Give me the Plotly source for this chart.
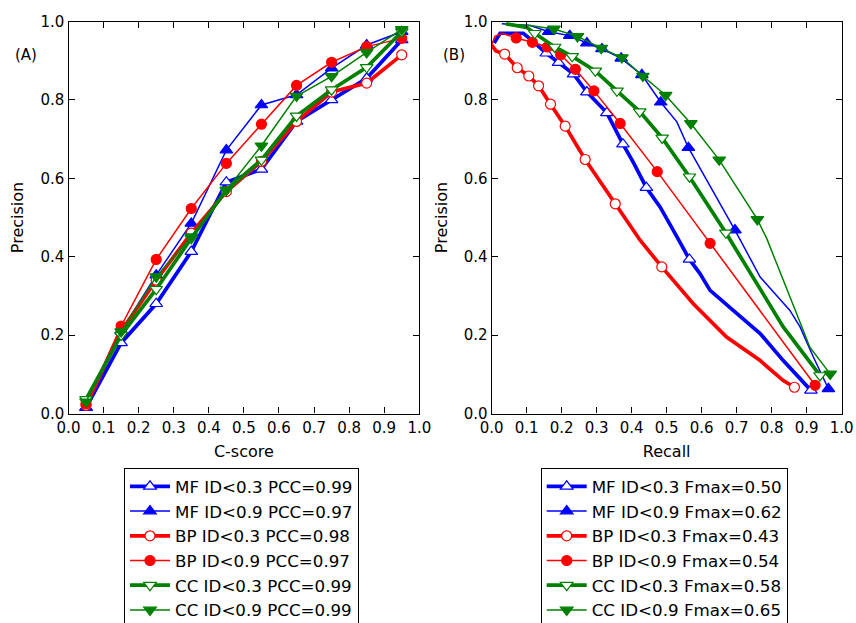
import plotly.graph_objects as go

# ---------------- Panel A data (C-score vs Precision) ----------------
cscore = [0.05, 0.15, 0.25, 0.35, 0.45, 0.55, 0.65, 0.75, 0.85, 0.95]
a_mf03 = [0.015, 0.180, 0.280, 0.413, 0.590, 0.623, 0.745, 0.800, 0.855, 0.953]
a_mf09 = [0.015, 0.210, 0.353, 0.485, 0.672, 0.787, 0.813, 0.881, 0.940, 0.974]
a_bp03 = [0.021, 0.210, 0.340, 0.460, 0.566, 0.643, 0.745, 0.820, 0.843, 0.915]
a_bp09 = [0.025, 0.223, 0.393, 0.523, 0.638, 0.738, 0.837, 0.896, 0.936, 0.957]
a_cc03 = [0.036, 0.200, 0.317, 0.447, 0.570, 0.647, 0.759, 0.826, 0.883, 0.974]
a_cc09 = [0.030, 0.209, 0.349, 0.451, 0.570, 0.683, 0.810, 0.860, 0.921, 0.980]

a_names = ["MF ID<0.3 PCC=0.99", "MF ID<0.9 PCC=0.97", "BP ID<0.3 PCC=0.98",
           "BP ID<0.9 PCC=0.97", "CC ID<0.3 PCC=0.99", "CC ID<0.9 PCC=0.99"]

# ---------------- Panel B data (Recall vs Precision) ----------------
b_mf03_r = [0.007, 0.024, 0.090, 0.115, 0.156, 0.191, 0.234, 0.272, 0.329, 0.375, 0.405, 0.442,
            0.481, 0.529, 0.565, 0.595, 0.624, 0.690, 0.767, 0.833, 0.912]
b_mf03_p = [0.945, 0.970, 0.970, 0.952, 0.919, 0.895, 0.866, 0.820, 0.767, 0.687, 0.640, 0.576,
            0.527, 0.451, 0.393, 0.357, 0.314, 0.263, 0.204, 0.135, 0.059]
b_mf03_mr = [0.156, 0.191, 0.234, 0.272, 0.329, 0.375, 0.442, 0.565, 0.912]
b_mf03_mp = [0.919, 0.895, 0.866, 0.820, 0.767, 0.687, 0.576, 0.393, 0.059]

b_mf09_r = [0.029, 0.110, 0.163, 0.223, 0.272, 0.315, 0.370, 0.429, 0.483, 0.529, 0.562,
            0.695, 0.767, 0.852, 0.881, 0.919, 0.962]
b_mf09_p = [0.994, 0.990, 0.974, 0.964, 0.945, 0.930, 0.906, 0.864, 0.794, 0.744, 0.678,
            0.468, 0.348, 0.263, 0.221, 0.144, 0.063]
b_mf09_mr = [0.163, 0.223, 0.272, 0.315, 0.370, 0.429, 0.483, 0.562, 0.695, 0.962]
b_mf09_mp = [0.974, 0.964, 0.945, 0.930, 0.906, 0.864, 0.794, 0.678, 0.468, 0.063]

b_bp03_r = [0.000, 0.012, 0.037, 0.073, 0.106, 0.134, 0.168, 0.210, 0.267, 0.353, 0.424,
            0.486, 0.576, 0.671, 0.767, 0.833, 0.865]
b_bp03_p = [0.940, 0.925, 0.917, 0.882, 0.861, 0.836, 0.789, 0.733, 0.648, 0.535, 0.442,
            0.374, 0.280, 0.195, 0.135, 0.084, 0.067]
b_bp03_mr = [0.037, 0.073, 0.106, 0.134, 0.168, 0.210, 0.267, 0.353, 0.486, 0.865]
b_bp03_mp = [0.917, 0.882, 0.861, 0.836, 0.789, 0.733, 0.648, 0.535, 0.374, 0.067]

b_bp09_r = [0.000, 0.009, 0.030, 0.070, 0.116, 0.159, 0.197, 0.239, 0.292, 0.367, 0.473, 0.624, 0.924]
b_bp09_p = [0.940, 0.962, 0.970, 0.958, 0.947, 0.935, 0.915, 0.878, 0.823, 0.740, 0.617, 0.434, 0.072]
b_bp09_mr = [0.070, 0.116, 0.159, 0.197, 0.239, 0.292, 0.367, 0.473, 0.624, 0.924]
b_bp09_mp = [0.958, 0.947, 0.935, 0.915, 0.878, 0.823, 0.740, 0.617, 0.434, 0.072]

b_cc03_r = [0.041, 0.100, 0.123, 0.180, 0.230, 0.296, 0.358, 0.423, 0.487, 0.565, 0.669,
            0.757, 0.833, 0.938]
b_cc03_p = [0.994, 0.985, 0.970, 0.935, 0.911, 0.874, 0.823, 0.770, 0.703, 0.604, 0.461,
            0.331, 0.221, 0.097]
b_cc03_mr = [0.123, 0.180, 0.230, 0.296, 0.358, 0.423, 0.487, 0.565, 0.669, 0.938]
b_cc03_mp = [0.970, 0.935, 0.911, 0.874, 0.823, 0.770, 0.703, 0.604, 0.461, 0.097]

b_cc09_r = [0.037, 0.110, 0.178, 0.245, 0.313, 0.372, 0.432, 0.497, 0.569, 0.650, 0.759,
            0.786, 0.871, 0.909, 0.967]
b_cc09_p = [0.993, 0.990, 0.981, 0.962, 0.932, 0.908, 0.861, 0.812, 0.740, 0.647, 0.495,
            0.446, 0.255, 0.169, 0.101]
b_cc09_mr = [0.178, 0.245, 0.313, 0.372, 0.432, 0.497, 0.569, 0.650, 0.759, 0.967]
b_cc09_mp = [0.981, 0.962, 0.932, 0.908, 0.861, 0.812, 0.740, 0.647, 0.495, 0.101]

b_names = ["MF ID<0.3 Fmax=0.50", "MF ID<0.9 Fmax=0.62", "BP ID<0.3 Fmax=0.43",
           "BP ID<0.9 Fmax=0.54", "CC ID<0.3 Fmax=0.58", "CC ID<0.9 Fmax=0.65"]

tick_vals_x = [0.0, 0.1, 0.2, 0.3, 0.4, 0.5, 0.6, 0.7, 0.8, 0.9, 1.0]
tick_vals_y = [0.0, 0.2, 0.4, 0.6, 0.8, 1.0]

# ---------------- styles ----------------
BLUE, RED, GREEN = "#0000ff", "#ff0000", "#008000"
styles = [
    dict(color=BLUE, width=3.7, symbol="triangle-up-open", size=11),
    dict(color=BLUE, width=1.5, symbol="triangle-up", size=11),
    dict(color=RED, width=3.7, symbol="circle-open", size=10),
    dict(color=RED, width=1.5, symbol="circle", size=10),
    dict(color=GREEN, width=3.7, symbol="triangle-down-open", size=11),
    dict(color=GREEN, width=1.5, symbol="triangle-down", size=11),
]

def marker_of(st):
    is_open = st["symbol"].endswith("-open")
    sym = st["symbol"].replace("-open", "")
    return dict(symbol=sym, size=st["size"],
                color="white" if is_open else st["color"],
                line=dict(color=st["color"], width=1.2))

def with_gaps(vals):
    """Separate the marker points so the marker trace draws no connecting line."""
    out = []
    for v in vals:
        out.extend([v, None])
    return out[:-1]

FONT = "DejaVu Sans"
fig = go.Figure()

a_series = [a_mf03, a_mf09, a_bp03, a_bp09, a_cc03, a_cc09]
for ys, nm, st in zip(a_series, a_names, styles):
    fig.add_trace(go.Scatter(
        x=cscore, y=ys, name=nm, mode="lines+markers",
        line=dict(color=st["color"], width=st["width"]),
        marker=marker_of(st), xaxis="x", yaxis="y", legend="legend"))

b_series = [
    (b_mf03_r, b_mf03_p, b_mf03_mr, b_mf03_mp),
    (b_mf09_r, b_mf09_p, b_mf09_mr, b_mf09_mp),
    (b_bp03_r, b_bp03_p, b_bp03_mr, b_bp03_mp),
    (b_bp09_r, b_bp09_p, b_bp09_mr, b_bp09_mp),
    (b_cc03_r, b_cc03_p, b_cc03_mr, b_cc03_mp),
    (b_cc09_r, b_cc09_p, b_cc09_mr, b_cc09_mp),
]
for (lr, lp, mr, mp), nm, st in zip(b_series, b_names, styles):
    fig.add_trace(go.Scatter(
        x=lr, y=lp, mode="lines", showlegend=False, hoverinfo="skip",
        line=dict(color=st["color"], width=st["width"]),
        xaxis="x2", yaxis="y2", legend="legend2"))
    fig.add_trace(go.Scatter(
        x=with_gaps(mr), y=with_gaps(mp), name=nm, mode="lines+markers",
        connectgaps=False,
        line=dict(color=st["color"], width=st["width"]),
        marker=marker_of(st), xaxis="x2", yaxis="y2", legend="legend2"))

# The figure is a little taller than the 623px window so that, as in the
# reference, the bottom of the two legend boxes is cut by the picture's edge.
W, H = 856, 629
ax_common = dict(
    range=[0, 1], showline=True, linecolor="black", linewidth=1.3, mirror="allticks",
    ticks="inside", ticklen=6, tickwidth=1, tickcolor="black", showgrid=False,
    zeroline=False, automargin=False, ticklabeloverflow="allow",
    tickfont=dict(family=FONT, size=15, color="black"),
)
xA = [68.5 / W, 419.3 / W]
xB = [491.7 / W, 841.7 / W]
yD = [(H - 413.5) / H, (H - 21.5) / H]

legend_common = dict(
    bgcolor="white", bordercolor="black", borderwidth=1,
    font=dict(family=FONT, size=16.7, color="black"),
    xanchor="left", yanchor="bottom", y=0, tracegroupgap=0, itemwidth=40,
)
title_font = dict(family=FONT, size=16, color="black")

fig.update_layout(
    width=W, height=H, margin=dict(l=0, r=0, t=0, b=0),
    paper_bgcolor="white", plot_bgcolor="white",
    font=dict(family=FONT, color="black"),
    xaxis=dict(ax_common, domain=xA, anchor="y", tickvals=tick_vals_x,
               ticktext=[f"{v:.1f}" for v in tick_vals_x],
               title=dict(text="C-score", font=title_font, standoff=10)),
    yaxis=dict(ax_common, domain=yD, anchor="x", tickvals=tick_vals_y,
               ticktext=[f"{v:.1f}" for v in tick_vals_y],
               title=dict(text="Precision", font=title_font, standoff=12)),
    xaxis2=dict(ax_common, domain=xB, anchor="y2", tickvals=tick_vals_x,
                ticktext=[f"{v:.1f}" for v in tick_vals_x],
                title=dict(text="Recall", font=title_font, standoff=10)),
    yaxis2=dict(ax_common, domain=yD, anchor="x2", tickvals=tick_vals_y,
                ticktext=[f"{v:.1f}" for v in tick_vals_y],
                title=dict(text="Precision", font=title_font, standoff=12)),
    legend=dict(legend_common, x=124 / W),
    legend2=dict(legend_common, x=540.7 / W),
    annotations=[
        dict(text="(A)", x=26 / W, y=(H - 55) / H, xref="paper", yref="paper",
             xanchor="center", yanchor="middle",
             showarrow=False, font=dict(family=FONT, size=15, color="black")),
        dict(text="(B)", x=454 / W, y=(H - 55) / H, xref="paper", yref="paper",
             xanchor="center", yanchor="middle",
             showarrow=False, font=dict(family=FONT, size=15, color="black")),
    ],
)

# remove the default page margin and scrollbars so the figure sits at the window's corner
fig.write_html(
    "out.html",
    config={"displayModeBar": False},
    post_script="document.body.style.margin='0';document.body.style.overflow='hidden';"
                "document.documentElement.style.overflow='hidden';",
)
